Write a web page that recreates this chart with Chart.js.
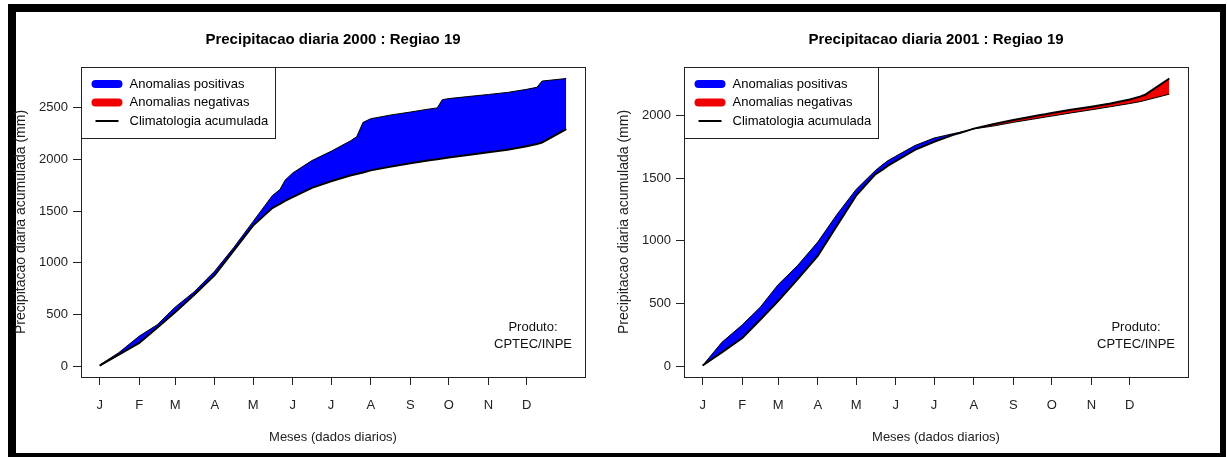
<!DOCTYPE html>
<html>
<head>
<meta charset="utf-8">
<script src="https://cdn.jsdelivr.net/npm/chart.js@4.4.1/dist/chart.umd.min.js"></script>
<style>
  html, body { margin: 0; padding: 0; background: #fff; overflow: hidden; }
  body { width: 1227px; height: 457px; position: relative; }
  #moldura {
    position: absolute; left: 8px; top: 4px; width: 1218px; height: 453px;
    box-sizing: border-box; border-style: solid; border-color: #000;
    border-width: 8px 6px 4px 8px;
  }
  canvas { position: absolute; top: 0; }
  #chart2000 { left: 0; }
  #chart2001 { left: 603px; }
</style>
</head>
<body>
<div id="moldura"></div>
<canvas id="chart2000" width="606" height="457"></canvas>
<canvas id="chart2001" width="606" height="457"></canvas>
<script>
/************************************************************************************************
 *                                        CHART DATA
 ************************************************************************************************/

// dia do ano (eixo x)
const dias = [1, 16, 32, 46, 60, 75, 91, 106, 121, 136, 142, 146, 152, 167, 182, 197, 202, 207, 213, 228, 244, 259, 265, 269, 274, 289, 305, 320, 335, 343, 347, 366];

// climatologia acumulada (mm)
const climatologia = [5, 110, 225, 370, 520, 690, 880, 1120, 1360, 1530, 1570, 1600, 1635, 1725, 1790, 1845, 1860, 1875, 1895, 1930, 1963, 1992, 2003, 2010, 2020, 2045, 2070, 2095, 2128, 2150, 2165, 2295];

// precipitacao acumulada observada (mm)
const precip2000 = [10, 130, 290, 400, 570, 720, 920, 1150, 1400, 1650, 1710, 1800, 1870, 1990, 2080, 2180, 2220, 2360, 2395, 2430, 2460, 2490, 2500, 2580, 2590, 2610, 2630, 2650, 2680, 2700, 2760, 2785];
const precip2001 = [5, 190, 330, 470, 650, 800, 990, 1210, 1410, 1560, 1610, 1640, 1675, 1760, 1820, 1855, 1865, 1878, 1893, 1915, 1945, 1970, 1980, 1987, 1995, 2020, 2045, 2070, 2095, 2110, 2120, 2170];

// ticks
const mesesDias = [1, 32, 60, 91, 121, 152, 182, 213, 244, 274, 305, 335];
const mesesLabels = ["J", "F", "M", "A", "M", "J", "J", "A", "S", "O", "N", "D"];
const yTicks = [0, 500, 1000, 1500, 2000, 2500];

// legenda
const legendaTextos = ["Anomalias positivas", "Anomalias negativas", "Climatologia acumulada"];
const legendaCores = ["#0000ff", "#f00000", "#000000"];
const legendaLarguras = [8, 8, 2];

/************************************************************************************************
 *                                        CHART SETTINGS
 ************************************************************************************************/

const COR_POSITIVA = "#0000ff";
const COR_NEGATIVA = "#f00000";
const FONTE = "'Liberation Sans', Arial, sans-serif";

const paineis = [
  { canvasId: "chart2000", titulo: "Precipitacao diaria 2000 : Regiao 19", observado: precip2000 },
  { canvasId: "chart2001", titulo: "Precipitacao diaria 2001 : Regiao 19", observado: precip2001 },
];

// faixa como no R: 4% de folga em cada lado
function rangeR(valores) {
  const lo = Math.min(...valores);
  const hi = Math.max(...valores);
  const ext = (hi - lo) * 0.04;
  return [lo - ext, hi + ext];
}

function toPoints(serie) {
  return dias.map((d, i) => ({ x: d, y: serie[i] }));
}

/************************************************************************************************
 *                                        PLUGINS
 ************************************************************************************************/

// caixa do grafico, legenda no canto e credito
const boxPlugin = {
  id: "boxPlugin",
  afterDraw(chart) {
    const { ctx, chartArea } = chart;
    const left = Math.round(chartArea.left) + 0.5;
    const top = Math.round(chartArea.top) + 0.5;
    ctx.save();
    ctx.strokeStyle = "#222";
    ctx.lineWidth = 1;
    ctx.strokeRect(left, top, Math.round(chartArea.right - chartArea.left), Math.round(chartArea.bottom - chartArea.top));

    // legenda
    ctx.font = "13px " + FONTE;
    ctx.textAlign = "left";
    ctx.textBaseline = "middle";
    let textoMax = 0;
    legendaTextos.forEach((t) => { textoMax = Math.max(textoMax, ctx.measureText(t).width); });
    ctx.fillStyle = "#fff";
    ctx.fillRect(left, top, 48 + textoMax + 7, 71);
    ctx.strokeStyle = "#222";
    ctx.strokeRect(left, top, Math.round(48 + textoMax + 7), 71);
    legendaTextos.forEach((t, i) => {
      const y = top + 16.5 + i * 18.5;
      ctx.beginPath();
      ctx.strokeStyle = legendaCores[i];
      ctx.lineWidth = legendaLarguras[i];
      ctx.lineCap = legendaLarguras[i] > 3 ? "round" : "butt";
      ctx.moveTo(left + 14, y);
      ctx.lineTo(left + 37, y);
      ctx.stroke();
      ctx.fillStyle = "#000";
      ctx.fillText(t, left + 48, y);
    });

    // credito
    ctx.fillStyle = "#111";
    ctx.font = "13px " + FONTE;
    ctx.textAlign = "center";
    const cx = chartArea.right - 52;
    ctx.fillText("Produto:", cx, chartArea.bottom - 50);
    ctx.fillText("CPTEC/INPE", cx, chartArea.bottom - 33);
    ctx.restore();
  },
};

/************************************************************************************************
 *                                        CHART CONFIG
 ************************************************************************************************/

function getConfig(painel) {
  const [yMin, yMax] = rangeR(climatologia.concat(painel.observado));
  const [xMin, xMax] = rangeR(dias);

  return {
    type: "line",
    data: {
      datasets: [
        {
          label: "Climatologia acumulada",
          data: toPoints(climatologia),
          borderColor: "#000",
          borderWidth: 2,
          pointRadius: 0,
          fill: false,
        },
        {
          label: "Observado",
          data: toPoints(painel.observado),
          borderColor: "#000",
          borderWidth: 1,
          pointRadius: 0,
          fill: { target: 0, above: COR_POSITIVA, below: COR_NEGATIVA },
        },
      ],
    },
    options: {
      responsive: false,
      animation: false,
      devicePixelRatio: 1,
      events: [],
      layout: { padding: { left: 0, right: 21, top: 0, bottom: 0 } },
      scales: {
        x: {
          type: "linear",
          min: xMin,
          max: xMax,
          afterBuildTicks: (scale) => { scale.ticks = mesesDias.map((v) => ({ value: v })); },
          afterFit: (scale) => { scale.height = 80; },
          ticks: {
            autoSkip: false,
            maxRotation: 0,
            padding: 13,
            color: "#222",
            font: { family: FONTE, size: 13 },
            callback: (v) => mesesLabels[mesesDias.indexOf(v)],
          },
          grid: { drawOnChartArea: false, drawTicks: true, tickLength: 8, color: "#222" },
          border: { display: true, color: "#222" },
          title: {
            display: true,
            text: "Meses (dados diarios)",
            color: "#222",
            font: { family: FONTE, size: 13 },
            padding: { top: 0, bottom: 12 },
          },
        },
        y: {
          type: "linear",
          min: yMin,
          max: yMax,
          afterBuildTicks: (scale) => { scale.ticks = yTicks.filter((v) => v <= yMax).map((v) => ({ value: v })); },
          afterFit: (scale) => { scale.width = 81; },
          ticks: {
            padding: 5,
            color: "#222",
            font: { family: FONTE, size: 13 },
            callback: (v) => String(v),
          },
          grid: { drawOnChartArea: false, drawTicks: true, tickLength: 8, color: "#222" },
          border: { display: true, color: "#222" },
          title: {
            display: true,
            text: "Precipitacao diaria acumulada (mm)",
            color: "#222",
            font: { family: FONTE, size: 14 },
            padding: { top: 13, bottom: 0 },
          },
        },
      },
      plugins: {
        title: {
          display: true,
          fullSize: false,
          text: painel.titulo,
          color: "#000",
          font: { family: FONTE, size: 15, weight: "bold" },
          padding: { top: 31, bottom: 18 },
        },
        legend: { display: false },
        tooltip: { enabled: false },
      },
    },
    plugins: [boxPlugin],
  };
}

/************************************************************************************************
 *                                    RENDER THE CHARTS
 ************************************************************************************************/

paineis.forEach((painel) => {
  const el = document.getElementById(painel.canvasId);
  new Chart(el, getConfig(painel));
});
</script>
</body>
</html>
